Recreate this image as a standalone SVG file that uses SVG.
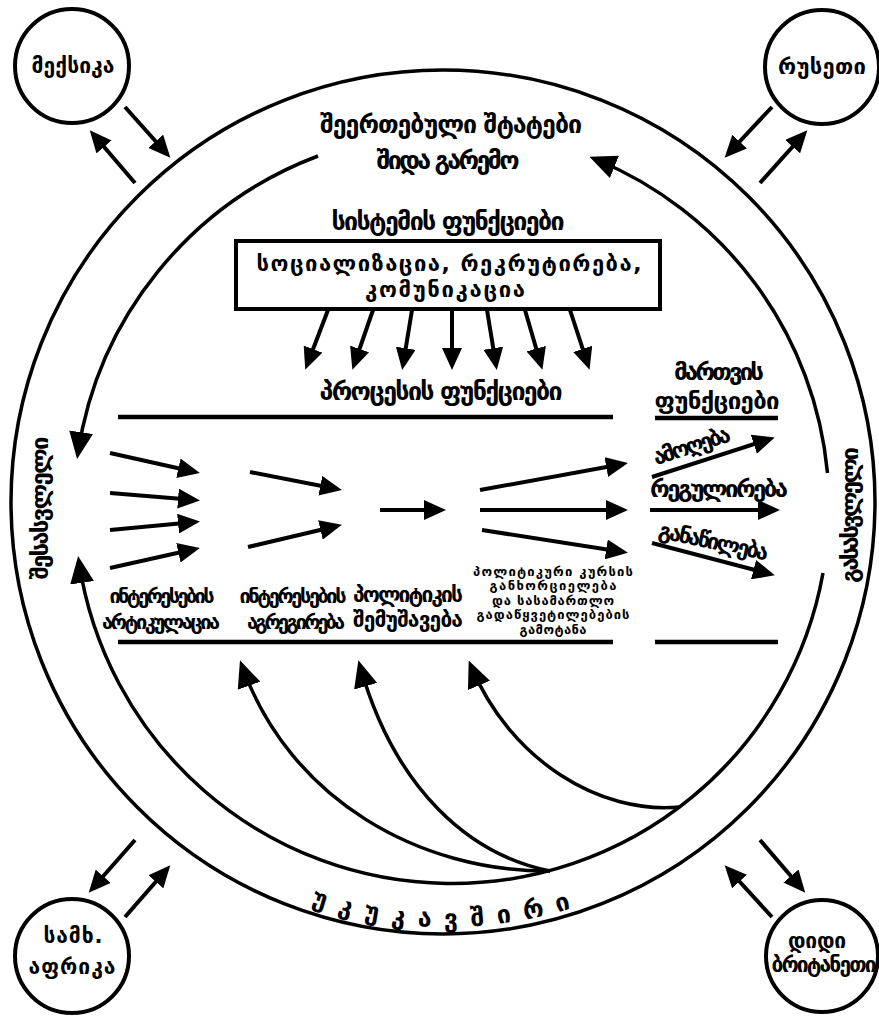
<svg xmlns="http://www.w3.org/2000/svg" width="879" height="1016" viewBox="0 0 879 1016">
<style>
text{font-family:"DejaVu Sans","Noto Sans",sans-serif;fill:#000;text-anchor:middle;font-weight:bold}
.ring{fill:none;stroke:#000;stroke-width:3.5}
.ln{fill:none;stroke:#000;stroke-width:4.5}
.ar{fill:none;stroke:#000;stroke-width:4;marker-end:url(#ah)}
.arL{fill:none;stroke:#000;stroke-width:3.5;marker-end:url(#ahL)}
.node{fill:#fff;stroke:#000;stroke-width:4}
.box{fill:#fff;stroke:#000;stroke-width:4}
.f22{font-size:25px}.fb{font-size:22px}.f21{font-size:24px}.f20{font-size:22px}.f19{font-size:21px}.f18{font-size:20px}.fs{font-size:13px}
</style>
<defs>
<marker id="ah" markerUnits="userSpaceOnUse" viewBox="0 0 22 20" markerWidth="22" markerHeight="20" refX="17" refY="10" orient="auto"><path d="M0,0L22,10L0,20z"/></marker>
<marker id="ahL" markerUnits="userSpaceOnUse" viewBox="0 0 27 24" markerWidth="27" markerHeight="24" refX="21" refY="12" orient="auto"><path d="M0,0L27,12L0,24z"/></marker>
<path id="fbArc" d="M 25,505 A 422 422 0 0 0 869,505"/>
</defs>

<g id="environment">
<circle class="ring" cx="443" cy="502" r="432"/>
</g>

<g id="connectors">
<path class="arL" d="M 827.5,473 A 377 377 0 0 0 595,159"/>
<path class="arL" d="M 318,156 A 377 377 0 0 0 78,453"/>
<path class="arL" d="M 823,573 A 377 377 0 0 1 79,562"/>
<path class="arL" d="M 550,871 C 420,872 290,800 242,666"/>
<path class="arL" d="M 550,871 C 470,855 395,790 360,666"/>
<path class="arL" d="M 680,807 C 600,815 510,760 471,666"/>
<line class="ar" x1="125" y1="107" x2="167" y2="154"/>
<line class="ar" x1="135" y1="183" x2="93" y2="134"/>
<line class="ar" x1="772" y1="107" x2="728" y2="154"/>
<line class="ar" x1="760" y1="183" x2="804" y2="134"/>
<line class="ar" x1="135" y1="840" x2="92" y2="889"/>
<line class="ar" x1="125" y1="917" x2="167" y2="869"/>
<line class="ar" x1="760" y1="840" x2="802" y2="889"/>
<line class="ar" x1="772" y1="917" x2="728" y2="869"/>
<line class="ar" x1="328" y1="310" x2="307" y2="365"/>
<line class="ar" x1="373" y1="310" x2="354" y2="365"/>
<line class="ar" x1="412" y1="310" x2="403" y2="365"/>
<line class="ar" x1="452" y1="310" x2="452" y2="365"/>
<line class="ar" x1="487" y1="310" x2="496" y2="365"/>
<line class="ar" x1="525" y1="310" x2="541" y2="365"/>
<line class="ar" x1="570" y1="310" x2="588" y2="365"/>
<line class="ar" x1="110" y1="453" x2="195" y2="472"/>
<line class="ar" x1="110" y1="493" x2="195" y2="500"/>
<line class="ar" x1="110" y1="530" x2="195" y2="522"/>
<line class="ar" x1="110" y1="568" x2="195" y2="549"/>
<line class="ar" x1="250" y1="472" x2="337" y2="489"/>
<line class="ar" x1="248" y1="547" x2="337" y2="526"/>
<line class="ar" x1="380" y1="510" x2="441" y2="510"/>
<line class="ar" x1="480" y1="490" x2="623" y2="464"/>
<line class="ar" x1="480" y1="510" x2="623" y2="510"/>
<line class="ar" x1="482" y1="530" x2="623" y2="552"/>
<line class="ar" x1="652" y1="477" x2="770" y2="439"/>
<line class="ar" x1="650" y1="510" x2="775" y2="510"/>
<line class="ar" x1="652" y1="543" x2="770" y2="574"/>
<line class="ln" x1="118" y1="417" x2="613" y2="417"/>
<line class="ln" x1="655" y1="418" x2="778" y2="418"/>
<line class="ln" x1="118" y1="642" x2="613" y2="642"/>
<line class="ln" x1="655" y1="642" x2="778" y2="642"/>
</g>

<g id="usa-label">
<text class="f22" x="451" y="133" textLength="262">შეერთებული შტატები</text>
<text class="f22" x="448" y="169" textLength="143">შიდა გარემო</text>
</g>

<g id="system-functions">
<text class="f22" x="448" y="230" textLength="233">სისტემის ფუნქციები</text>
<rect class="box" x="236" y="241" width="424" height="68"/>
<text class="fb" x="449" y="271" textLength="385">სოციალიზაცია, რეკრუტირება,</text>
<text class="fb" x="445" y="297" textLength="160">კომუნიკაცია</text>
</g>

<g id="process-functions">
<text class="f22" x="441" y="400" textLength="243">პროცესის ფუნქციები</text>
</g>

<g id="policy-functions">
<text class="f21" x="719" y="380" textLength="90">მართვის</text>
<text class="f21" x="717" y="409" textLength="125">ფუნქციები</text>
<text class="f20" transform="translate(694,453) rotate(-18)" textLength="80">ამოღება</text>
<text class="f21" x="719" y="497" textLength="138">რეგულირება</text>
<text class="f20" transform="translate(712,549) rotate(12)" textLength="112">განაწილება</text>
</g>

<g id="input-label">
<text class="f21" transform="translate(48,508) rotate(-90)" textLength="143">შესასვლელი</text>
</g>
<g id="output-label">
<text class="f21" transform="translate(858,515) rotate(-90)" textLength="136">გასასვლელი</text>
</g>

<g id="articulation">
<text class="f18" x="162" y="603" textLength="105">ინტერესების</text>
<text class="f18" x="161" y="629" textLength="118">არტიკულაცია</text>
</g>
<g id="aggregation">
<text class="f18" x="293" y="603" textLength="107">ინტერესების</text>
<text class="f18" x="296" y="629" textLength="98">აგრეგირება</text>
</g>
<g id="policy-making">
<text class="f19" x="408" y="602" textLength="110">პოლიტიკის</text>
<text class="f19" x="408" y="627" textLength="110">შემუშავება</text>
</g>
<g id="implementation">
<text class="fs" x="553" y="576" textLength="160">პოლიტიკური კურსის</text>
<text class="fs" x="553" y="590" textLength="127">განხორციელება</text>
<text class="fs" x="553" y="605" textLength="122">და სასამართლო</text>
<text class="fs" x="553" y="619" textLength="153">გადაწყვეტილებების</text>
<text class="fs" x="553" y="634" textLength="67">გამოტანა</text>
</g>

<g id="feedback-label">
<text class="f22" letter-spacing="13"><textPath href="#fbArc" startOffset="50%">უკუკავშირი</textPath></text>
</g>

<g id="mexico">
<circle class="node" cx="72" cy="66" r="57"/>
<text class="f19" x="73" y="73" textLength="83">მექსიკა</text>
</g>
<g id="russia">
<circle class="node" cx="822" cy="67" r="57"/>
<text class="f20" x="822" y="74" textLength="88">რუსეთი</text>
</g>
<g id="south-africa">
<circle class="node" cx="72" cy="956" r="57"/>
<text class="f19" x="73" y="943" textLength="59">სამხ.</text>
<text class="f19" x="72" y="974" textLength="87">აფრიკა</text>
</g>
<g id="great-britain">
<circle class="node" cx="822" cy="956" r="56"/>
<text class="f19" x="817" y="948" textLength="58">დიდი</text>
<text class="f19" x="824" y="972" textLength="105">ბრიტანეთი</text>
</g>
</svg>
